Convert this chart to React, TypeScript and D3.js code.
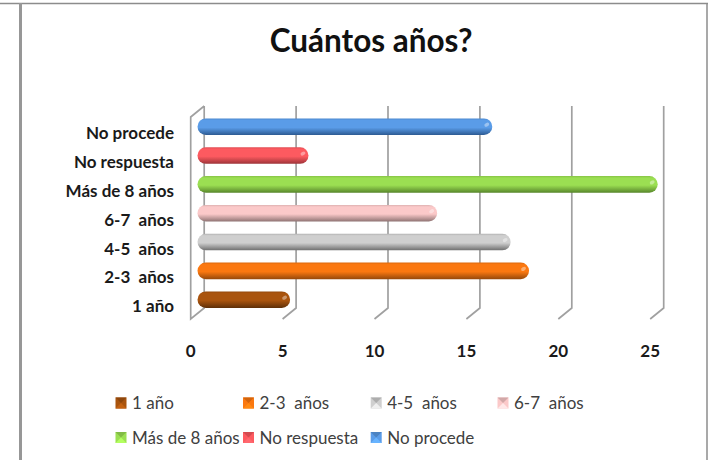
import React from 'react';
import * as d3 from 'd3';

const categories = ['1 año', '2-3  años', '4-5  años', '6-7  años', 'Más de 8 años', 'No respuesta', 'No procede'];
const values = [5, 18, 17, 13, 25, 6, 16];
const colors = ['#a9540e', '#fb7810', '#cfcfcf', '#fbc9c9', '#9bdf52', '#fd5a60', '#5a9ce8'];
const darks = ['#5e2f08', '#96480a', '#6f6f6f', '#8f7373', '#57862b', '#9c3338', '#2c5a92'];
const xTicks = [0, 5, 10, 15, 20, 25];

const width = 708;
const height = 460;
const font = 'Lato, "Open Sans", sans-serif';
const gridColor = '#a0a0a0';
const depthX = -13.5;
const depthY = 11;

const x = d3.scaleLinear().domain([0, 25]).range([204.2, 663.7]);
const y = d3.scalePoint<string>().domain(categories).range([299.7, 126.7]);
const gridTop = 106;
const gridBottom = 308;

const App = () => {
  const legendCols = [115.5, 243, 370.7, 497.5];
  const legendRows = [403, 437.5];
  const sw = 11;

  return (
    <svg width={width} height={height} style={{ position: 'absolute', left: 0, top: 0, background: '#fff' }}>
      <defs>
        {categories.map((c, i) => (
          <linearGradient key={c} id={`bar${i}`} x1="0" x2="0" y1="0" y2="1">
            <stop offset="0" stopColor={d3.interpolateRgb(colors[i], darks[i])(0.3)} />
            <stop offset="0.12" stopColor={colors[i]} />
            <stop offset="0.55" stopColor={colors[i]} />
            <stop offset="0.8" stopColor={d3.interpolateRgb(colors[i], darks[i])(0.55)} />
            <stop offset="1" stopColor={darks[i]} />
          </linearGradient>
        ))}
      </defs>

      {/* page frame */}
      <line x1={0} x2={708} y1={3.5} y2={3.5} stroke="#8c8c8c" strokeWidth={1.5} />
      <line x1={20.5} x2={20.5} y1={3} y2={460} stroke="#979797" strokeWidth={3} />
      <line x1={707} x2={707} y1={3} y2={460} stroke="#8c8c8c" strokeWidth={1.5} />

      <text x={371} y={52} textAnchor="middle" fontFamily={font} fontWeight={700} fontSize={31.5} fill="#111">
        Cuántos años?
      </text>

      {/* grid walls */}
      {xTicks.map((t) => {
        const p = d3.path();
        p.moveTo(x(t), gridTop);
        p.lineTo(x(t), gridBottom);
        p.lineTo(x(t) + depthX, gridBottom + depthY);
        if (t === 0) {
          p.lineTo(x(t) + depthX, gridTop + depthY);
          p.lineTo(x(t), gridTop);
        }
        return <path key={t} d={p.toString()} fill="none" stroke={gridColor} strokeWidth={1.7} />;
      })}

      {/* bars */}
      {categories.map((c, i) => {
        const x0 = x(0) - 6.7;
        const x1 = x(values[i]) - 6;
        const cy = y(c) as number;
        const h = 16.6;
        return (
          <g key={c}>
            <rect x={x0} y={cy - h / 2} width={x1 - x0} height={h} rx={h / 2} fill={`url(#bar${i})`} />
            <ellipse cx={x1 - 5.5} cy={cy - 2} rx={2.6} ry={1.8} fill="#fff" opacity={0.4} transform={`rotate(-30 ${x1 - 5.5} ${cy - 2})`} />
          </g>
        );
      })}

      {/* category labels */}
      {categories.map((c) => (
        <text
          key={c}
          x={174}
          y={(y(c) as number) + 12.5}
          textAnchor="end"
          fontFamily={font}
          fontWeight={700}
          fontSize={17}
          fill="#1a1a1a"
          style={{ whiteSpace: 'pre' }}
        >
          {c}
        </text>
      ))}

      {/* value axis labels */}
      {xTicks.map((t) => (
        <text key={t} x={x(t) + depthX} y={357} textAnchor="middle" fontFamily={font} fontWeight={700} fontSize={17} fill="#1a1a1a">
          {t}
        </text>
      ))}

      {/* legend, four entries on the first row and three on the second */}
      {categories.map((c, i) => {
        const sx = legendCols[i < 4 ? i : i - 4];
        const ly = legendRows[i < 4 ? 0 : 1];
        const top = ly - sw / 2;
        const cx = sx + sw / 2;
        const base = d3.color(colors[i])!;
        return (
          <g key={c}>
            <rect x={sx} y={top} width={sw} height={sw} fill={colors[i]} />
            <path d={`M${sx},${top}L${sx + sw},${top}L${cx},${ly}Z`} fill={base.darker(0.5).formatHex()} />
            <path d={`M${sx},${top + sw}L${sx + sw},${top + sw}L${cx},${ly}Z`} fill={base.brighter(0.4).formatHex()} />
            <text x={sx + 16.5} y={ly + 6} fontFamily={font} fontSize={17} fill="#404040" style={{ whiteSpace: 'pre' }}>
              {c}
            </text>
          </g>
        );
      })}
    </svg>
  );
};

export default App;
